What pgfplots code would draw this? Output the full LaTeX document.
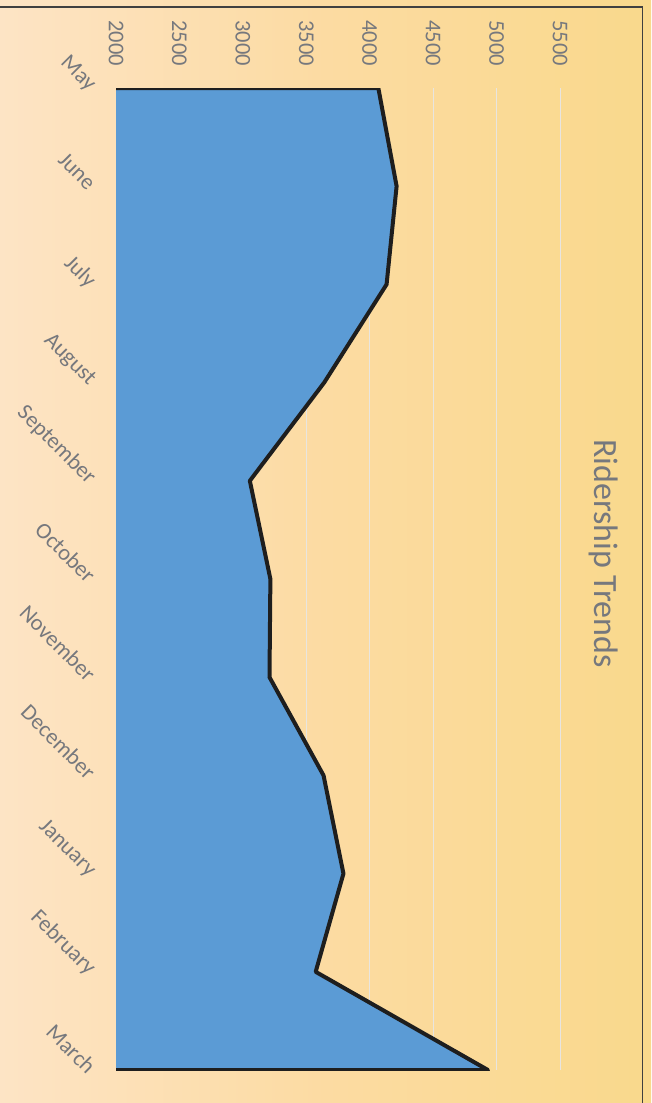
\documentclass[border=0pt]{standalone}
\usepackage{fontspec}
\setmainfont{Carlito}
\usepackage{pgfplots}
\pgfplotsset{compat=1.18}
\definecolor{areablue}{RGB}{91,155,213}
\definecolor{lblgray}{RGB}{118,120,125}
\definecolor{bgl}{RGB}{253,228,197}
\definecolor{bgm}{RGB}{252,219,162}
\definecolor{bgr}{RGB}{249,217,140}
\definecolor{gridc}{RGB}{232,229,224}
\definecolor{edgec}{RGB}{30,30,30}
\begin{document}
\begin{tikzpicture}
\useasboundingbox (0,0) rectangle (651pt,1103pt);
\shade[left color=bgl, right color=bgr, middle color=bgm] (0,0) rectangle (651pt,1103pt);
\draw[line width=1.2pt, color=black!75] (0,1096pt) -- (642.5pt,1096pt) -- (642.5pt,0);
\begin{axis}[
  at={(116pt,33pt)}, anchor=south west,
  scale only axis, width=444pt, height=982pt,
  xmin=2000, xmax=5500, ymin=0, ymax=10, y dir=reverse,
  axis x line*=top, axis y line*=left,
  x axis line style={draw=none},
  y axis line style={draw=gray!80, line width=1pt, -},
  xtick={2000,2500,...,5500},
  ytick={0,...,10},
  yticklabels={May,June,July,August,September,October,November,December,January,February,March},
  tick style={draw=none},
  major tick length=0pt,
  xmajorgrids, grid style={draw=gridc, line width=1pt},
  ticklabel style={font=\fontsize{22.5}{22.5}\selectfont, text=lblgray, inner sep=0pt},
  /pgf/number format/assume math mode=true,
  /pgf/number format/1000 sep={},
  xticklabel style={rotate=-90, anchor=east},
  xticklabel shift=22pt,
  yticklabel style={rotate=-45, anchor=east},
  yticklabel shift=24pt,
  title={Ridership Trends},
  title style={at={(1.097,0.52)}, anchor=center, rotate=-90, font=\fontsize{34}{34}\selectfont, text=lblgray},
]
\addplot[fill=areablue, draw=none] coordinates {
 (2000,0) (4068,0) (4212,1) (4133,2) (3641,3) (3055,4) (3217,5) (3210,6) (3636,7) (3793,8) (3574,9) (4932,10) (2000,10)
} -- cycle;
\addplot[draw=edgec, line width=4pt, line join=round, line cap=round] coordinates {
 (2000,0) (4068,0) (4212,1) (4133,2) (3641,3) (3055,4) (3217,5) (3210,6) (3636,7) (3793,8) (3574,9) (4932,10) (2000,10)
};
\end{axis}
\end{tikzpicture}
\end{document}
